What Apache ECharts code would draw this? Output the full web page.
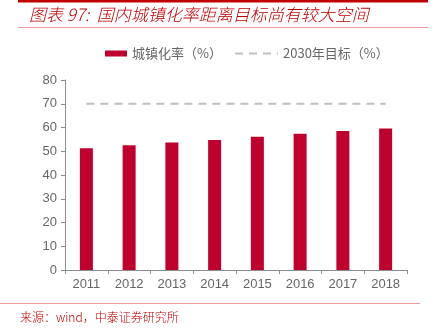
<!DOCTYPE html>
<html>
<head>
<meta charset="utf-8">
<script src="https://cdn.jsdelivr.net/npm/echarts@6/dist/echarts.min.js"></script>
<style>
  html, body { margin: 0; padding: 0; background: #fff; }
  #chart { width: 440px; height: 332px; }
</style>
</head>
<body>
<div id="chart"></div>
<script>
// Urbanization rate by year vs. the 2030 target
const years = ['2011', '2012', '2013', '2014', '2015', '2016', '2017', '2018'];
const urbanRate = [51.27, 52.57, 53.73, 54.77, 56.10, 57.35, 58.52, 59.58];
const target2030 = [70, 70, 70, 70, 70, 70, 70, 70];
const yTicks = [0, 10, 20, 30, 40, 50, 60, 70, 80];

const RED = '#c0002f';
const GRAY_TEXT = '#666666';
const AXIS_GRAY = '#8c8c8c';
const CJK = '"Noto Sans CJK SC", sans-serif';
const LATIN = '"Liberation Sans", Arial, sans-serif';

const chart = echarts.init(document.getElementById('chart'), null, { renderer: 'canvas' });

chart.setOption({
  animation: false,
  backgroundColor: '#fff',
  graphic: [
    { type: 'rect', shape: { x: 18, y: 0, width: 410, height: 2.5 }, style: { fill: '#c00000' } },
    { type: 'text', left: 29, top: 6,
      style: { text: '图表 97:  国内城镇化率距离目标尚有较大空间', fill: '#c00000',
               font: 'italic 300 17px ' + CJK } },
    { type: 'rect', shape: { x: 18, y: 27, width: 410, height: 1 }, style: { fill: '#ee9a9a' } },
    { type: 'rect', shape: { x: 0, y: 303, width: 420, height: 1 }, style: { fill: '#ee9a9a' } },
    { type: 'text', left: 20, top: 311,
      style: { text: '来源：wind，中泰证券研究所', fill: '#c00000', font: '300 12px ' + CJK } }
  ],
  legend: [
    { data: ['城镇化率（%）'], left: 100, top: 42, itemWidth: 22, itemHeight: 6,
      icon: 'rect', itemGap: 5,
      textStyle: { color: GRAY_TEXT, fontSize: 13, fontFamily: CJK } },
    { data: ['2030年目标（%）'], left: 229, top: 42, itemWidth: 43, itemHeight: 6,
      itemStyle: { opacity: 0 },
      textStyle: { color: GRAY_TEXT, fontSize: 13, fontFamily: CJK } }
  ],
  grid: { left: 65, right: 33, top: 80, bottom: 62, containLabel: false },
  xAxis: {
    type: 'category',
    data: years,
    boundaryGap: true,
    axisLine: { show: true, lineStyle: { color: AXIS_GRAY, width: 1 } },
    axisTick: { show: true, alignWithLabel: false, length: 4, lineStyle: { color: AXIS_GRAY } },
    axisLabel: { color: GRAY_TEXT, fontSize: 13, fontFamily: LATIN, margin: 8 },
    splitLine: { show: false }
  },
  yAxis: {
    type: 'value',
    min: yTicks[0],
    max: yTicks[yTicks.length - 1],
    interval: yTicks[1] - yTicks[0],
    axisLine: { show: true, lineStyle: { color: AXIS_GRAY, width: 1 } },
    axisTick: { show: true, length: 4, lineStyle: { color: AXIS_GRAY } },
    axisLabel: { color: GRAY_TEXT, fontSize: 13, fontFamily: LATIN, margin: 8 },
    splitLine: { show: false }
  },
  series: [
    {
      name: '城镇化率（%）',
      type: 'bar',
      data: urbanRate,
      barWidth: 13,
      itemStyle: { color: RED }
    },
    {
      name: '2030年目标（%）',
      type: 'line',
      data: target2030,
      symbol: 'none',
      itemStyle: { color: '#bfbfbf' },
      lineStyle: { color: '#bfbfbf', width: 2, type: [8, 6] }
    }
  ]
});
</script>
</body>
</html>
